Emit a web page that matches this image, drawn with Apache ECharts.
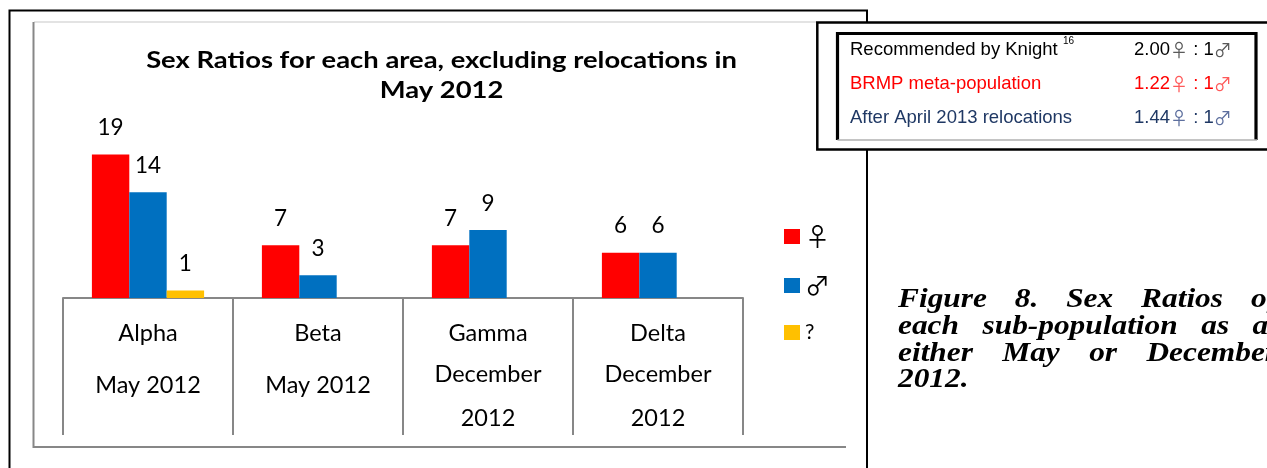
<!DOCTYPE html>
<html>
<head>
<meta charset="utf-8">
<script src="https://cdn.jsdelivr.net/npm/echarts@6/dist/echarts.min.js"></script>
<style>
  html, body { margin: 0; padding: 0; background: #ffffff; }
  #chart { width: 1267px; height: 468px; }
</style>
</head>
<body>
<div id="chart"></div>
<script>
// Sub-populations and when each was counted
const areas = ['Alpha', 'Beta', 'Gamma', 'Delta'];
const surveyDates = ['May 2012', 'May 2012', 'December 2012', 'December 2012'];

// Head counts per sex
const seriesNames = ['♀', '♂', '?'];
const females = [19, 7, 7, 6];
const males = [14, 3, 9, 6];
const unknownSex = [1, null, null, null];

// Reference sex ratios (females per male)
const ratioSources = ['Recommended by Knight', 'BRMP meta-population', 'After April 2013 relocations'];
const ratioValues = [2.00, 1.22, 1.44];

const chartTitle = ['Sex Ratios for each area, excluding relocations in', 'May 2012'];
const captionLines = [
  'Figure 8. Sex Ratios of',
  'each sub-population as at',
  'either May or December',
  '2012.'
];

const SANS = 'Lato, "Open Sans", sans-serif';
const SYMBOL_FONT = '"Noto Sans CJK JP", "DejaVu Sans", sans-serif';
const GRAY = '#878787';
const BAR_COLORS = ['#ff0000', '#0070c0', '#ffc000'];
const ROW_COLORS = ['#000000', '#ff0000', '#1f3864'];
const SYMBOL_COLORS = ['#5a5a5a', '#ff5a5a', '#5d6f9e'];

function categoryLabel(value, index) {
  const date = surveyDates[index];
  if (date.length > 9) {
    const cut = date.lastIndexOf(' ');
    return '{n|' + value + '}\n{w1|' + date.slice(0, cut) + '}\n{w2|' + date.slice(cut + 1) + '}';
  }
  return '{n|' + value + '}\n{d|' + date + '}';
}

function legendLabel(name) {
  return name === '?' ? '{q|' + name + '}' : '{s|' + name + '}';
}

const valueLabel = {
  show: true,
  position: 'top',
  distance: 15,
  fontFamily: SANS,
  fontSize: 22.5,
  color: '#000000'
};

// Justified caption: every line but the last is spread between the two edges
const CAP_FAMILY = '"Liberation Serif", "Times New Roman", serif';
const CAP_SIZE = 28;
const CAP_SCALE_X = 1.12;
const CAP_LEFT = 898, CAP_RIGHT = 1277, CAP_TOP = 300, CAP_LINE = 26.7;
const measureCtx = document.createElement('canvas').getContext('2d');
measureCtx.font = 'italic bold ' + CAP_SIZE + 'px "Liberation Serif"';
const captionElements = [];
captionLines.forEach(function (line, li) {
  const words = line.split(' ');
  const widths = words.map(function (w) { return measureCtx.measureText(w).width * CAP_SCALE_X; });
  const total = widths.reduce(function (a, b) { return a + b; }, 0);
  const isLast = li === captionLines.length - 1;
  const gap = (isLast || words.length < 2) ? measureCtx.measureText(' ').width * CAP_SCALE_X
    : (CAP_RIGHT - CAP_LEFT - total) / (words.length - 1);
  let x = CAP_LEFT;
  words.forEach(function (w, wi) {
    captionElements.push({
      type: 'text', x: x, y: CAP_TOP + li * CAP_LINE, scaleX: CAP_SCALE_X, z: 20,
      style: {
        text: w, x: 0, y: 0, fill: '#000000', align: 'left', verticalAlign: 'middle',
        fontFamily: CAP_FAMILY, fontSize: CAP_SIZE, fontWeight: 'bold', fontStyle: 'italic'
      }
    });
    x += widths[wi] + gap;
  });
});

// Ratio table in the upper right corner
const TABLE_FONT = '"Liberation Sans", Arial, sans-serif';
const tableElements = [
  { type: 'rect', z: 30, shape: { x: 817.3, y: 22.5, width: 480, height: 127 },
    style: { fill: '#ffffff', stroke: '#000000', lineWidth: 2.5 } },
  { type: 'polyline', z: 31, shape: { points: [[837.5, 140], [837.5, 33.5], [1256, 33.5], [1256, 140]] },
    style: { fill: null, stroke: '#000000', lineWidth: 3.2 } },
  { type: 'line', z: 31, shape: { x1: 837.5, y1: 140, x2: 1257, y2: 140 },
    style: { stroke: '#b0b0b0', lineWidth: 1.5 } },
  { type: 'text', z: 32, x: 1063, y: 41.5,
    style: { text: '16', fontFamily: TABLE_FONT, fontSize: 10, fill: '#000000', verticalAlign: 'middle' } }
];
ratioSources.forEach(function (src, i) {
  const y = 50 + i * 34;
  tableElements.push({
    type: 'text', z: 32, x: 850, y: y,
    style: { text: src, fontFamily: TABLE_FONT, fontSize: 18.5, fill: ROW_COLORS[i], verticalAlign: 'middle' }
  });
  tableElements.push({
    type: 'text', z: 32, x: 1134, y: y,
    style: {
      text: '{v|' + ratioValues[i].toFixed(2) + '}{s|♀}{v| : 1}{s|♂}',
      verticalAlign: 'middle',
      rich: {
        v: { fontFamily: TABLE_FONT, fontSize: 18.5, fill: ROW_COLORS[i] },
        s: { fontFamily: SYMBOL_FONT, fontSize: 18, fill: SYMBOL_COLORS[i] }
      }
    }
  });
});

const chart = echarts.init(document.getElementById('chart'), null, { renderer: 'canvas' });
chart.setOption({
  animation: false,
  textStyle: { fontFamily: SANS },
  grid: { left: 63, width: 680, top: 147, height: 151 },
  xAxis: {
    type: 'category',
    data: areas,
    axisLine: { lineStyle: { color: GRAY, width: 2 } },
    axisTick: { show: true, interval: 0, length: 137, lineStyle: { color: GRAY, width: 2 } },
    axisLabel: {
      interval: 0,
      margin: 22,
      color: '#000000',
      formatter: categoryLabel,
      rich: {
        n: { fontFamily: SANS, fontSize: 23.5, lineHeight: 26, color: '#000000' },
        d: { fontFamily: SANS, fontSize: 23.5, lineHeight: 78, color: '#000000' },
        w1: { fontFamily: SANS, fontSize: 23.5, lineHeight: 56, color: '#000000' },
        w2: { fontFamily: SANS, fontSize: 23.5, lineHeight: 32, color: '#000000' }
      }
    }
  },
  yAxis: { type: 'value', min: 0, max: 20, show: false },
  legend: {
    orient: 'vertical',
    left: 784,
    top: 224,
    padding: 0,
    itemWidth: 16,
    itemHeight: 15,
    itemGap: 24,
    icon: 'rect',
    selectedMode: false,
    data: seriesNames,
    formatter: legendLabel,
    textStyle: {
      color: '#000000',
      lineHeight: 15,
      rich: {
        s: { fontFamily: SYMBOL_FONT, fontSize: 25, lineHeight: 15, color: '#000000' },
        q: { fontFamily: SANS, fontSize: 21, lineHeight: 15, color: '#000000' }
      }
    }
  },
  series: [
    { name: seriesNames[0], type: 'bar', data: females, barGap: '0%', barCategoryGap: '34%',
      itemStyle: { color: BAR_COLORS[0] }, label: valueLabel },
    { name: seriesNames[1], type: 'bar', data: males, barGap: '0%', barCategoryGap: '34%',
      itemStyle: { color: BAR_COLORS[1] }, label: valueLabel },
    { name: seriesNames[2], type: 'bar', data: unknownSex, barGap: '0%', barCategoryGap: '34%',
      itemStyle: { color: BAR_COLORS[2] }, label: valueLabel }
  ],
  graphic: [
    // outer page frame
    { type: 'polyline', z: 10, shape: { points: [[9.5, 470], [9.5, 10.5], [867, 10.5], [867, 470]] },
      style: { fill: null, stroke: '#000000', lineWidth: 2 } },
    // chart area frame
    { type: 'line', z: 10, shape: { x1: 34, y1: 22, x2: 817, y2: 22 }, style: { stroke: '#c8c8c8', lineWidth: 1.2 } },
    { type: 'polyline', z: 10, shape: { points: [[846, 447], [33.5, 447], [33.5, 22]] },
      style: { fill: null, stroke: GRAY, lineWidth: 2 } },
    // title
    { type: 'text', z: 10, x: 441.5, y: 61, scaleX: 1.19,
      style: { text: chartTitle[0], fontFamily: SANS, fontWeight: 'bold', fontSize: 23, fill: '#000000', align: 'center', verticalAlign: 'middle' } },
    { type: 'text', z: 10, x: 441.5, y: 91, scaleX: 1.19,
      style: { text: chartTitle[1], fontFamily: SANS, fontWeight: 'bold', fontSize: 23, fill: '#000000', align: 'center', verticalAlign: 'middle' } }
  ].concat(tableElements, captionElements)
});
</script>
</body>
</html>
